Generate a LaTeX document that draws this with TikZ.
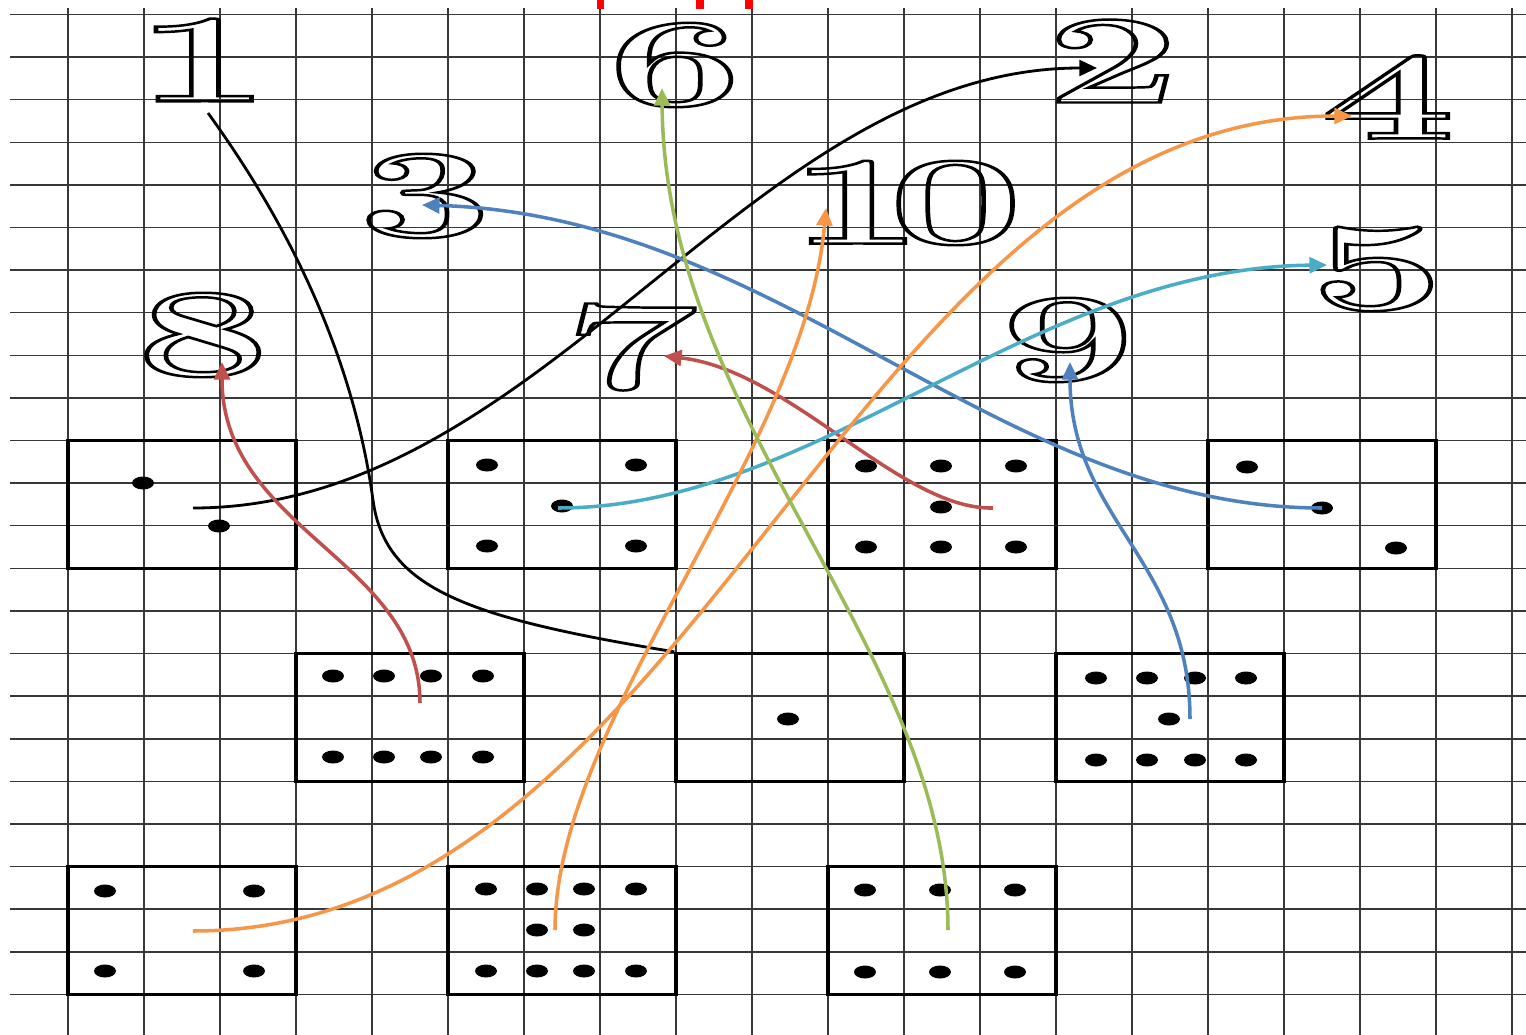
\documentclass[tikz,border=0pt]{standalone}
\usepackage{graphicx}
\usetikzlibrary{arrows.meta}
\definecolor{cRed}{RGB}{192,80,77}
\definecolor{cBlue}{RGB}{79,129,189}
\definecolor{cCyan}{RGB}{75,172,198}
\definecolor{cOrange}{RGB}{247,150,70}
\definecolor{cGreen}{RGB}{155,187,89}
\newcommand\outl[1]{\special{pdf:literal direct 1 Tr 1.4 w}#1\special{pdf:literal direct 0 Tr}}
\newcommand\dg[1]{\scalebox{1.9}[1]{\outl{#1}}}
\begin{document}
\begin{tikzpicture}[x=0.02cm, y=-0.02cm,
  gridline/.style={draw=black!78, line width=0.9pt},
  cardbox/.style={draw=black, line width=1.9pt, minimum width=4.56cm, minimum height=2.556cm, inner sep=0pt},
  digit/.style={inner sep=0pt, font=\fontsize{72}{72}\selectfont\bfseries},
  link/.style={line width=2.0pt, -{Triangle[length=10pt,width=9pt]}},
  plainlink/.style={line width=1.6pt}]
\useasboundingbox (0,0) rectangle (1526,1035);
\fill[white] (0,0) rectangle (1526,1035);
% grid
\foreach \i in {0,...,19} \draw[gridline] ({68+76*\i},8) -- ({68+76*\i},1035);
\foreach \j in {0,...,23} \draw[gridline] (10,{14.5+42.6*\j}) -- (1526,{14.5+42.6*\j});
% red marks at top
\fill[red] (597,0) rectangle (604,9);
\fill[red] (696,0) rectangle (704,9);
\fill[red] (745,0) rectangle (753,9);
% cards
\node[cardbox] (A1) at (182,504.4) {};
\node[cardbox] (A2) at (562,504.4) {};
\node[cardbox] (A3) at (942,504.4) {};
\node[cardbox] (A4) at (1322,504.4) {};
\node[cardbox] (B1) at (410,717.4) {};
\node[cardbox] (B2) at (790,717.4) {};
\node[cardbox] (B3) at (1170,717.4) {};
\node[cardbox] (C1) at (182,930.4) {};
\node[cardbox] (C2) at (562,930.4) {};
\node[cardbox] (C3) at (942,930.4) {};
% dots
\foreach \x/\y in {143/483, 219/526,
  487/465, 636/465, 562/506, 487/546, 636/546,
  866/466, 941/466, 1016/466, 941/507, 866/547, 941/547, 1016/547,
  1247/467, 1322/508, 1396/548,
  333/676, 384/676, 431/676, 483/676, 333/757, 384/757, 431/757, 483/757,
  788/719,
  1096/678, 1147/678, 1195/678, 1246/678, 1169/719, 1096/760, 1147/760, 1195/760, 1246/760,
  105/891, 254/891, 105/971, 254/971,
  486/889, 537/889, 584/889, 636/889, 537/930, 584/930, 486/971, 537/971, 584/971, 636/971,
  865/890, 940/890, 1015/890, 865/972, 940/972, 1015/972}
  \fill[black] (\x,\y) ellipse [x radius=11, y radius=6.5];
% numbers
\node[digit] (n1) at (203,60) {\dg{1}};
\node[digit] (n6) at (675,65) {\dg{6}};
\node[digit] (n2) at (1113,61) {\dg{2}};
\node[digit] (n4) at (1388,97) {\dg{4}};
\node[digit] (n3) at (425,196) {\dg{3}};
\node[digit] (n10) at (906,203) {\dg{1\kern-0.15em 0}};
\node[digit] (n8) at (203,335) {\dg{8}};
\node[digit] (n7) at (631,347) {\dg{7}};
\node[digit] (n9) at (1068,340) {\dg{9}};
\node[digit] (n5) at (1377,269) {\dg{5}};
% connector ends
\coordinate (t1) at (208,113);
\coordinate (sA1) at (193,508);
\coordinate (t2) at (1097,68);
\coordinate (sB1) at (420,703);
\coordinate (t8) at (222,362);
\coordinate (sA3) at (993,508);
\coordinate (t7) at (664,356);
\coordinate (sA4) at (1322,508);
\coordinate (t3) at (422,205);
\coordinate (sB3) at (1190,719);
\coordinate (t9) at (1070,362);
\coordinate (sA2) at (558,508);
\coordinate (t5) at (1327,265);
\coordinate (sC1) at (193,931);
\coordinate (t4) at (1352,116);
\coordinate (sC2) at (555,930);
\coordinate (t10) at (826,208);
\coordinate (sC3) at (948,930);
\coordinate (t6) at (662,88);
% connectors
\draw[plainlink, black] (t1) .. controls (300,240) and (355,370) .. (373,500) .. controls (385,590) and (470,618) .. (B2.north west);
\draw[link, black, line width=1.6pt] (sA1) .. controls (545,508) and (750,68) .. (t2);
\draw[link, cRed] (sB1) .. controls (420,560) and (222,530) .. (t8);
\draw[link, cRed] (sA3) .. controls (900,510) and (790,370) .. (t7);
\draw[link, cBlue] (sA4) .. controls (1000,508) and (780,215) .. (t3);
\draw[link, cBlue] (sB3) .. controls (1190,560) and (1070,520) .. (t9);
\draw[link, cCyan] (sA2) .. controls (820,508) and (1030,268) .. (t5);
\draw[link, cOrange] (sC1) .. controls (700,931) and (850,116) .. (t4);
\draw[link, cOrange] (sC2) .. controls (555,720) and (805,450) .. (t10);
\draw[link, cGreen] (sC3) .. controls (948,650) and (664,420) .. (t6);
\end{tikzpicture}
\end{document}
